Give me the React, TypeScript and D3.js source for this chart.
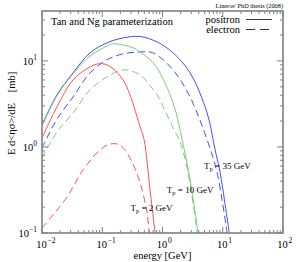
import React from "react";
import * as d3 from "d3";

// positron, Tp = 35 GeV (blue solid)
const E_POS35 = [0.01, 0.0177, 0.0327, 0.0627, 0.12, 0.222, 0.425, 0.813, 1.5, 2.87, 5.5, 7.48, 9.06, 12.8];
const V_POS35 = [1.8, 4.03, 7.25, 12.4, 16.2, 18.5, 19.2, 16.6, 12.4, 7.25, 2.48, 0.92, 0.5, 0.1];
// electron, Tp = 35 GeV (blue dashed)
const E_ELE35 = [0.01, 0.0177, 0.0327, 0.0627, 0.12, 0.222, 0.425, 0.622, 0.813, 1.5, 2.87, 5.5, 8.07, 11.8];
const V_ELE35 = [0.973, 2.1, 3.81, 7.25, 10.3, 12.1, 12.7, 12.7, 11.7, 7.86, 3.81, 1.21, 0.5, 0.1];
// positron, Tp = 10 GeV (green solid)
const E_POS10 = [0.01, 0.0177, 0.0327, 0.0627, 0.12, 0.146, 0.222, 0.325, 0.425, 0.622, 0.813, 1.5, 2.12, 2.87, 3.9];
const V_POS10 = [1.75, 3.92, 7.06, 11.4, 14.9, 15.8, 15.3, 14.2, 12.7, 10.3, 8.29, 3.25, 1.21, 0.413, 0.1];
// electron, Tp = 10 GeV (green dashed)
const E_ELE10 = [0.01, 0.0177, 0.0327, 0.0627, 0.12, 0.222, 0.425, 0.622, 0.813, 1.5, 1.96, 2.66, 3.76];
const V_ELE10 = [0.744, 1.49, 2.48, 4.6, 6.51, 7.86, 6.87, 5.12, 4.03, 1.66, 1.14, 0.5, 0.1];
// positron, Tp = 2 GeV (red solid)
const E_POS2 = [0.01, 0.0177, 0.0327, 0.0627, 0.0851, 0.12, 0.222, 0.425, 0.495, 0.622, 0.754];
const V_POS2 = [1.27, 2.92, 6.01, 8.51, 9.23, 8.98, 6.01, 1.71, 1.21, 0.316, 0.1];
// electron, Tp = 2 GeV (red dashed)
const E_ELE2 = [0.01, 0.026, 0.048, 0.0918, 0.135, 0.198, 0.3, 0.425, 0.555, 0.598];
const V_ELE2 = [0.114, 0.262, 0.541, 0.92, 1.08, 1.05, 0.706, 0.381, 0.171, 0.1];

const X_DECADES = [-2, -1, 0, 1, 2];
const Y_DECADES = [-1, 0, 1];
const X_DOMAIN = [0.01, 100];
const Y_DOMAIN = [0.1, 38];

const TITLE = "Tan and Ng parameterization";
const CREDIT = "Lineros' PhD thesis (2008)";
const LEGEND_LABELS = ["positron", "electron"];
const ANNOTATIONS = [
  { label: "35 GeV", E: 4.9, v: 0.55 },
  { label: "10 GeV", E: 1.18, v: 0.29 },
  { label: "2 GeV", E: 0.295, v: 0.18 },
];

const RED = "#ff5050";
const GREEN = "#7acc7a";
const BLUE = "#4b4bff";

const SERIES = [
  { E: E_POS35, V: V_POS35, color: BLUE, dash: null },
  { E: E_ELE35, V: V_ELE35, color: BLUE, dash: "7,4" },
  { E: E_POS10, V: V_POS10, color: GREEN, dash: null },
  { E: E_ELE10, V: V_ELE10, color: GREEN, dash: "7,4" },
  { E: E_POS2, V: V_POS2, color: RED, dash: null },
  { E: E_ELE2, V: V_ELE2, color: RED, dash: "7,4" },
];

const W = 299;
const H = 262;
const L = 42, R = 283, T = 11, B = 233;
const FONT = "'Liberation Serif', 'DejaVu Serif', serif";
const FRAME = "#808080";

export default function App() {
  const x = d3.scaleLog().domain(X_DOMAIN).range([L, R]);
  const y = d3.scaleLog().domain(Y_DOMAIN).range([B, T]);
  const line = d3
    .line<[number, number]>()
    .x((d) => x(d[0]))
    .y((d) => y(d[1]))
    .curve(d3.curveCatmullRom.alpha(0.5));

  const xMinor: number[] = [];
  X_DECADES.slice(0, -1).forEach((d) => {
    for (let k = 2; k <= 9; k++) xMinor.push(k * Math.pow(10, d));
  });
  const yMinor: number[] = [];
  [-1, 0, 1].forEach((d) => {
    for (let k = 2; k <= 9; k++) {
      const v = k * Math.pow(10, d);
      if (v < Y_DOMAIN[1]) yMinor.push(v);
    }
  });

  const major = 6, minor = 3;

  return (
    <svg width={W} height={H} style={{ position: "absolute", left: 0, top: 0 }} fontFamily={FONT}>
      <rect x={0} y={0} width={W} height={H} fill="#fff" />
      <defs>
        <clipPath id="plot">
          <rect x={L} y={T} width={R - L} height={B - T} />
        </clipPath>
      </defs>
      <g clipPath="url(#plot)">
        {SERIES.map((s, i) => (
          <path
            key={i}
            d={line(s.E.map((e, j) => [e, s.V[j]] as [number, number])) || ""}
            fill="none"
            stroke={s.color}
            strokeWidth={1}
            strokeDasharray={s.dash || undefined}
          />
        ))}
      </g>
      {/* ticks */}
      <g stroke={FRAME} strokeWidth={1}>
        {X_DECADES.map((d) => (
          <g key={"xm" + d}>
            <line x1={x(Math.pow(10, d))} x2={x(Math.pow(10, d))} y1={B} y2={B - major} />
            <line x1={x(Math.pow(10, d))} x2={x(Math.pow(10, d))} y1={T} y2={T + major} />
          </g>
        ))}
        {xMinor.map((v, i) => (
          <g key={"xn" + i}>
            <line x1={x(v)} x2={x(v)} y1={B} y2={B - minor} />
            <line x1={x(v)} x2={x(v)} y1={T} y2={T + minor} />
          </g>
        ))}
        {Y_DECADES.map((d) => (
          <g key={"ym" + d}>
            <line x1={L} x2={L + major} y1={y(Math.pow(10, d))} y2={y(Math.pow(10, d))} />
            <line x1={R} x2={R - major} y1={y(Math.pow(10, d))} y2={y(Math.pow(10, d))} />
          </g>
        ))}
        {yMinor.map((v, i) => (
          <g key={"yn" + i}>
            <line x1={L} x2={L + minor} y1={y(v)} y2={y(v)} />
            <line x1={R} x2={R - minor} y1={y(v)} y2={y(v)} />
          </g>
        ))}
      </g>
      <rect x={L} y={T} width={R - L} height={B - T} fill="none" stroke={FRAME} strokeWidth={1.6} />
      {/* x tick labels */}
      {X_DECADES.map((d) => {
        const px = x(Math.pow(10, d));
        return (
          <g key={"xl" + d} fontSize={10.5} fill="#000">
            <text x={px - 0.5} y={248} textAnchor="middle">10</text>
            <text x={px + 5.5} y={243} fontSize={7.5}>{d < 0 ? "\u2212" + Math.abs(d) : String(d)}</text>
          </g>
        );
      })}
      {/* y tick labels */}
      {Y_DECADES.map((d) => {
        const py = y(Math.pow(10, d));
        return (
          <text key={"yl" + d} x={37} y={py + 4} textAnchor="end" fontSize={10.5} fill="#000">
            10
            <tspan dy={-5} fontSize={7.5}>{d < 0 ? "\u2212" + Math.abs(d) : String(d)}</tspan>
          </text>
        );
      })}
      {/* axis titles */}
      <text x={(L + R) / 2} y={259} textAnchor="middle" fontSize={10.5} fill="#000">
        energy [GeV]
      </text>
      <text transform={`translate(15,129) rotate(-90)`} textAnchor="middle" fontSize={10.5} fill="#000">
        E d&lt;ησ&gt;/dE
      </text>
      <text transform={`translate(15,82) rotate(-90)`} textAnchor="middle" fontSize={10.5} fill="#000">
        [mb]
      </text>
      {/* title & credit */}
      <text x={51} y={25} fontSize={10.5} fill="#000">{TITLE}</text>
      <text x={283} y={8} textAnchor="end" fontSize={6.3} fill="#000">{CREDIT}</text>
      {/* legend */}
      <text x={240} y={23} textAnchor="end" fontSize={10.5} fill="#000">{LEGEND_LABELS[0]}</text>
      <line x1={246} x2={272} y1={19.5} y2={19.5} stroke="#000" strokeWidth={0.8} />
      <text x={240} y={33} textAnchor="end" fontSize={10.5} fill="#000">{LEGEND_LABELS[1]}</text>
      <line x1={246} x2={272} y1={29.5} y2={29.5} stroke="#000" strokeWidth={0.8} strokeDasharray="9,5" />
      {/* annotations */}
      {ANNOTATIONS.map((a, i) => (
        <text key={"an" + i} x={x(a.E)} y={y(a.v)} fontSize={9} fill="#000">
          T
          <tspan dy={2} fontSize={6.5}>p</tspan>
          <tspan dy={-2}>{" = " + a.label}</tspan>
        </text>
      ))}
    </svg>
  );
}
